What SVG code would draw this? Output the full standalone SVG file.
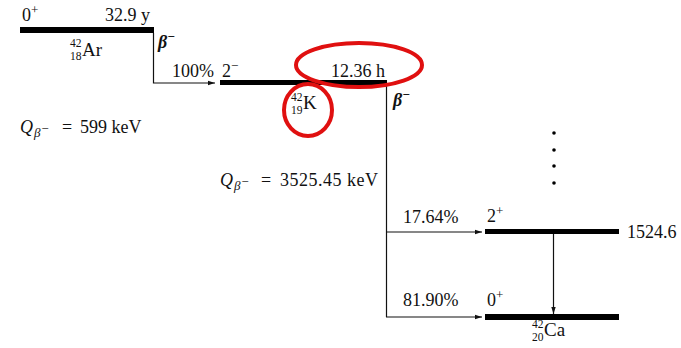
<svg xmlns="http://www.w3.org/2000/svg" width="681" height="348" viewBox="0 0 681 348">
<style>
text{font-family:"Liberation Serif","DejaVu Serif",serif;font-size:18px;fill:#111}
.sm{font-size:13px}
.nu{font-size:11.5px}
.el{font-size:19px}
.lvl{fill:#000}
.ln{stroke:#111;stroke-width:1.2;fill:none}
.red{fill:none;stroke:#e01010;stroke-width:4}
</style>
<defs>
<marker id="ah" markerWidth="8" markerHeight="6" refX="7" refY="3" orient="auto" markerUnits="userSpaceOnUse">
<path d="M0,0.8 L7,3 L0,5.2 Z" fill="#111"/>
</marker>
</defs>
<rect width="681" height="348" fill="#fff"/>
<g id="Ar42">
<rect class="lvl" x="20" y="27" width="134" height="6"/>
<text x="22" y="21">0<tspan class="sm" dy="-7">+</tspan></text>
<text x="150" y="21" text-anchor="end">32.9 y</text>
<text class="nu" x="70" y="47">42</text>
<text class="nu" x="70" y="60">18</text>
<text class="el" x="82" y="56">Ar</text>
<text x="158" y="48" font-weight="bold" font-style="italic">β<tspan class="sm" dy="-7">−</tspan></text>
</g>
<g id="K42">
<rect class="lvl" x="220" y="80" width="167" height="5"/>
<text x="222" y="77">2<tspan class="sm" dy="-7">−</tspan></text>
<text x="385" y="77" text-anchor="end">12.36 h</text>
<text class="nu" x="291" y="101">42</text>
<text class="nu" x="291" y="114">19</text>
<text class="el" x="303" y="109">K</text>
<text x="393" y="106" font-weight="bold" font-style="italic">β<tspan class="sm" dy="-7">−</tspan></text>
</g>
<g id="Q1">
<text x="20" y="133" font-style="italic">Q</text>
<text class="sm" x="34" y="137" font-style="italic">β<tspan dy="-4">−</tspan></text>
<text x="62" y="133">=</text>
<text x="80" y="133">599 keV</text>
</g>
<g id="Q2">
<text x="220" y="186" font-style="italic">Q</text>
<text class="sm" x="234" y="190" font-style="italic">β<tspan dy="-4">−</tspan></text>
<text x="261" y="186">=</text>
<text x="280" y="186" textLength="98" lengthAdjust="spacing">3525.45 keV</text>
</g>
<g id="dots" fill="#000">
<circle cx="554" cy="133" r="1.8"/>
<circle cx="554" cy="150" r="1.8"/>
<circle cx="554" cy="166" r="1.8"/>
<circle cx="554" cy="183" r="1.8"/>
</g>
<g id="Ca42_2plus">
<rect class="lvl" x="485" y="229" width="134" height="5"/>
<text x="487" y="222">2<tspan class="sm" dy="-7">+</tspan></text>
<text x="627" y="238">1524.6</text>
</g>
<g id="Ca42_0plus">
<rect class="lvl" x="485" y="314" width="134" height="6"/>
<text x="487" y="306">0<tspan class="sm" dy="-7">+</tspan></text>
<text class="nu" x="532" y="328">42</text>
<text class="nu" x="532" y="341">20</text>
<text class="el" x="544" y="336">Ca</text>
</g>
<g id="connectors">
<polyline class="ln" points="153.5,33 153.5,83 215,83" marker-end="url(#ah)"/>
<line class="ln" x1="386.5" y1="85" x2="386.5" y2="317"/>
<line class="ln" x1="386" y1="232" x2="482" y2="232" marker-end="url(#ah)"/>
<line class="ln" x1="386" y1="317" x2="482" y2="317" marker-end="url(#ah)"/>
<line class="ln" x1="553.5" y1="234" x2="553.5" y2="314" marker-end="url(#ah)"/>
<text x="172" y="77">100%</text>
<text x="403" y="223">17.64%</text>
<text x="403" y="306">81.90%</text>
</g>
<g id="highlights">
<ellipse class="red" cx="359" cy="65" rx="63" ry="22"/>
<ellipse class="red" cx="308" cy="110" rx="24" ry="26"/>
</g>
</svg>
